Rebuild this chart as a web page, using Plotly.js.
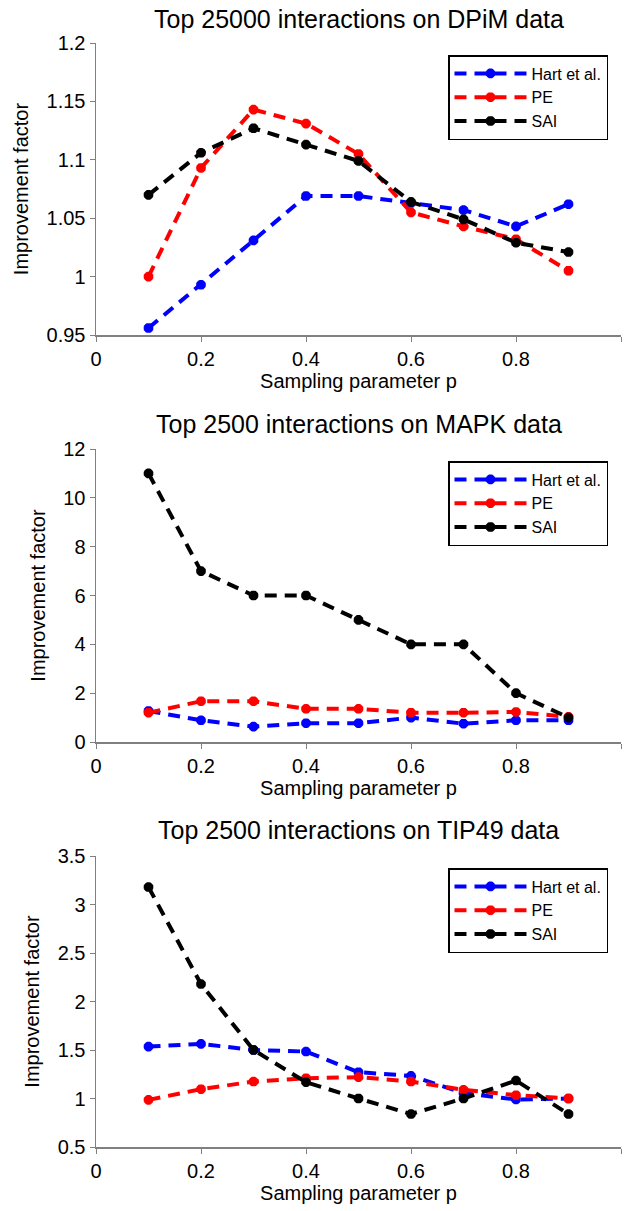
<!DOCTYPE html>
<html>
<head>
<meta charset="utf-8">
<script src="https://cdn.plot.ly/plotly-3.0.1.min.js"></script>
<style>
  html, body { margin: 0; padding: 0; background: #ffffff; }
  #chart { width: 626px; height: 1211px; }
</style>
</head>
<body>
<div id="chart"></div>
<script>
// Sampling parameter values shared by all three panels
const p = [0.1, 0.2, 0.3, 0.4, 0.5, 0.6, 0.7, 0.8, 0.9];

// Top 25000 interactions on DPiM data
const dpimHart = [0.956, 0.993, 1.031, 1.069, 1.069, 1.063, 1.057, 1.043, 1.062];
const dpimPE   = [1.000, 1.093, 1.143, 1.131, 1.105, 1.055, 1.043, 1.032, 1.005];
const dpimSAI  = [1.070, 1.106, 1.127, 1.113, 1.099, 1.064, 1.049, 1.029, 1.021];

// Top 2500 interactions on MAPK data
const mapkHart = [1.27, 0.89, 0.63, 0.77, 0.77, 1.00, 0.75, 0.89, 0.89];
const mapkPE   = [1.20, 1.67, 1.67, 1.36, 1.36, 1.20, 1.20, 1.23, 1.03];
const mapkSAI  = [11, 7, 6, 6, 5, 4, 4, 2, 1];

// Top 2500 interactions on TIP49 data
const tipHart = [1.535, 1.563, 1.500, 1.484, 1.271, 1.233, 1.055, 0.990, 1.000];
const tipPE   = [0.986, 1.096, 1.175, 1.209, 1.220, 1.175, 1.090, 1.034, 1.000];
const tipSAI  = [3.180, 2.180, 1.500, 1.168, 1.000, 0.840, 1.000, 1.185, 0.840];

const seriesNames = ['Hart et al.', 'PE', 'SAI'];
const seriesColors = ['#0000ff', '#ff0000', '#000000'];

const panelTitles = [
  'Top 25000 interactions on DPiM data',
  'Top 2500 interactions on MAPK data',
  'Top 2500 interactions on TIP49 data'
];
const panels = [
  [dpimHart, dpimPE, dpimSAI],
  [mapkHart, mapkPE, mapkSAI],
  [tipHart, tipPE, tipSAI]
];
const yRanges = [[0.95, 1.2], [0, 12], [0.5, 3.5]];
const yDticks = [0.05, 2, 0.5];

const W = 626, H = 1211;
const FONT = 'Arial, "Liberation Sans", Helvetica, sans-serif';
const AXIS_GREY = '#808080';

// Plot-area placement in pixels (top, bottom) for each panel
const plotTops = [43, 449, 856];
const plotBottoms = [335, 742, 1147];
const plotLeft = 96, plotRight = 621;
const titleCenters = [19, 424, 830];

const traces = [];
panels.forEach((series, i) => {
  const sfx = i === 0 ? '' : String(i + 1);
  series.forEach((vals, k) => {
    traces.push({
      type: 'scatter',
      mode: 'lines+markers',
      x: p,
      y: vals,
      name: seriesNames[k],
      xaxis: 'x' + sfx,
      yaxis: 'y' + sfx,
      legend: 'legend' + sfx,
      line: { color: seriesColors[k], width: 4, dash: '12px,8px' },
      marker: {
        symbol: 'asterisk-open',
        size: 8,
        color: seriesColors[k],
        line: { color: seriesColors[k], width: 3.5 }
      },
      cliponaxis: false,
      hoverinfo: 'x+y+name'
    });
  });
});

const layout = {
  width: W,
  height: H,
  margin: { l: 0, r: 0, t: 0, b: 0 },
  paper_bgcolor: '#ffffff',
  plot_bgcolor: '#ffffff',
  font: { family: FONT, color: '#000000', size: 20 },
  annotations: [],
  showlegend: true
};

panels.forEach((_, i) => {
  const sfx = i === 0 ? '' : String(i + 1);
  const yDomain = [1 - plotBottoms[i] / H, 1 - plotTops[i] / H];
  layout['xaxis' + sfx] = {
    domain: [plotLeft / W, plotRight / W],
    anchor: 'y' + sfx,
    range: [0, 1],
    tickvals: [0, 0.2, 0.4, 0.6, 0.8, 1],
    ticktext: ['0', '0.2', '0.4', '0.6', '0.8', '1'],
    ticks: 'outside',
    ticklen: 5,
    tickwidth: 1,
    tickcolor: AXIS_GREY,
    showline: true,
    linecolor: AXIS_GREY,
    linewidth: 1.5,
    showgrid: false,
    zeroline: false,
    tickfont: { family: FONT, size: 20, color: '#000000' },
    title: { text: 'Sampling parameter p', font: { family: FONT, size: 20, color: '#000000' }, standoff: 5 }
  };
  layout['yaxis' + sfx] = {
    domain: yDomain,
    anchor: 'x' + sfx,
    range: yRanges[i],
    dtick: yDticks[i],
    tick0: yRanges[i][0],
    ticks: 'outside',
    ticklen: 5,
    tickwidth: 1,
    tickcolor: AXIS_GREY,
    showline: true,
    linecolor: AXIS_GREY,
    linewidth: 1.5,
    showgrid: false,
    zeroline: false,
    tickfont: { family: FONT, size: 20, color: '#000000' },
    title: { text: 'Improvement factor', font: { family: FONT, size: 20, color: '#000000' }, standoff: 12 }
  };
  layout['legend' + sfx] = {
    x: 448 / W,
    y: 1 - (plotTops[i] + 12) / H,
    xanchor: 'left',
    yanchor: 'top',
    bgcolor: '#ffffff',
    bordercolor: '#000000',
    borderwidth: 1.5,
    font: { family: FONT, size: 16, color: '#000000' },
    itemwidth: 72
  };
  layout.annotations.push({
    text: panelTitles[i],
    xref: 'paper',
    yref: 'paper',
    x: ((plotLeft + plotRight) / 2) / W,
    y: 1 - titleCenters[i] / H,
    xanchor: 'center',
    yanchor: 'middle',
    showarrow: false,
    font: { family: FONT, size: 25, color: '#000000' }
  });
});

Plotly.newPlot('chart', traces, layout, { displayModeBar: false, staticPlot: true });
</script>
</body>
</html>
